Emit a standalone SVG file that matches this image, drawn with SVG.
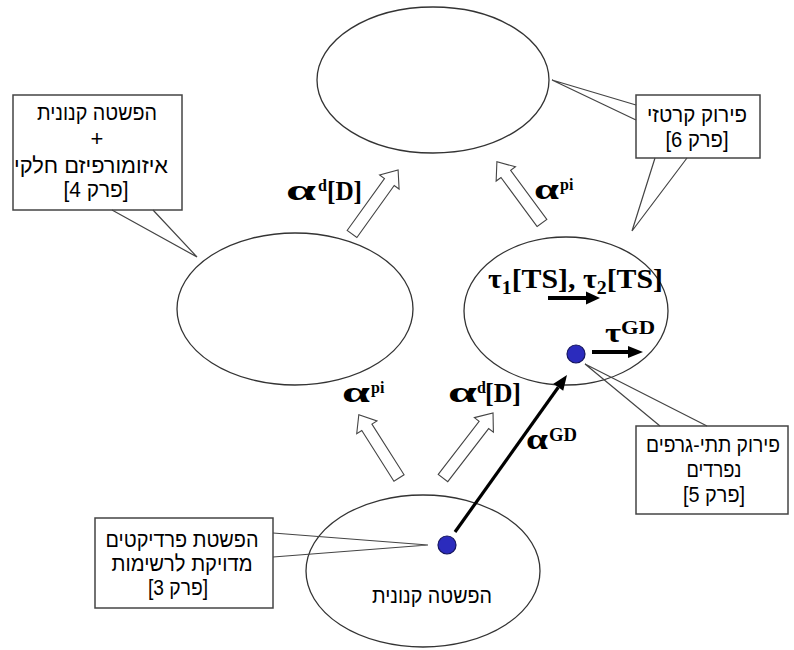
<svg xmlns="http://www.w3.org/2000/svg" width="794" height="650" viewBox="0 0 794 650">
<defs>
<style>
.ell{fill:#fff;stroke:#333;stroke-width:1.3}
.box{fill:#fff;stroke:#444;stroke-width:1.5}
.ptr{fill:none;stroke:#444;stroke-width:1.2}
.blk{fill:#fff;stroke:#444;stroke-width:1.1}
.he{font-family:"Liberation Sans","DejaVu Sans",sans-serif;font-size:22px;fill:#000;text-anchor:middle;direction:rtl;unicode-bidi:embed}
.hl{font-family:"Liberation Sans","DejaVu Sans",sans-serif;font-size:21px;fill:#000;text-anchor:middle}
.m{font-family:"Liberation Serif","Times New Roman",serif;font-weight:bold;fill:#000}
.dot{fill:#2b2bbd;stroke:#14145e;stroke-width:1.2}
.ar{stroke:#000;fill:none}
</style>
</defs>

<g id="ellipses">
<g id="n-top"><ellipse class="ell" cx="433" cy="80" rx="116" ry="73"/></g>
<g id="n-left"><ellipse class="ell" cx="295" cy="309" rx="118" ry="76"/></g>
<g id="n-right"><ellipse class="ell" cx="566" cy="311" rx="102" ry="74"/></g>
<g id="n-bottom"><ellipse class="ell" cx="423" cy="571" rx="117" ry="76"/>
<text class="he" x="432" y="603" textLength="120" lengthAdjust="spacingAndGlyphs">הפשטה קנונית</text></g>
</g>

<g id="connectors">
<path class="blk" transform="translate(399,478) rotate(-122.4)" d="M0,-6 H60 V-12 L75,0 L60,12 V6 H0 Z"/>
<path class="blk" transform="translate(443,478) rotate(-52.4)" d="M0,-6 H67 V-12 L82,0 L67,12 V6 H0 Z"/>
<path class="blk" transform="translate(352,234) rotate(-54.3)" d="M0,-6 H64 V-12 L79,0 L64,12 V6 H0 Z"/>
<path class="blk" transform="translate(542,223) rotate(-126.4)" d="M0,-6 H61 V-12 L76,0 L61,12 V6 H0 Z"/>

<line class="ar" x1="455" y1="532" x2="558.3" y2="387.2" stroke-width="3.2"/>
<polygon points="567,375 563.2,390.7 553.4,383.7" fill="#000"/>
<line class="ar" x1="548" y1="298" x2="589" y2="298" stroke-width="4"/>
<polygon points="586,291.5 600,298 586,304.5" fill="#000"/>
<line class="ar" x1="592" y1="352" x2="631" y2="352" stroke-width="4"/>
<polygon points="628,346 643,352 628,358" fill="#000"/>
</g>

<g id="labels">
<g id="lbl-top-left">
<text class="m" x="286" y="200" font-size="30" textLength="30" lengthAdjust="spacingAndGlyphs">α</text>
<text class="m" x="318" y="191" font-size="16">d</text>
<text class="m" x="327" y="200" font-size="27" textLength="35" lengthAdjust="spacingAndGlyphs">[D]</text>
</g>
<g id="lbl-top-right">
<text class="m" x="534" y="199" font-size="30" textLength="25" lengthAdjust="spacingAndGlyphs">α</text>
<text class="m" x="560" y="190" font-size="16">pi</text>
</g>
<g id="lbl-bottom-left">
<text class="m" x="342" y="402" font-size="30" textLength="28" lengthAdjust="spacingAndGlyphs">α</text>
<text class="m" x="371" y="393" font-size="16">pi</text>
</g>
<g id="lbl-bottom-right">
<text class="m" x="448" y="402" font-size="30" textLength="29" lengthAdjust="spacingAndGlyphs">α</text>
<text class="m" x="477" y="393" font-size="16">d</text>
<text class="m" x="485" y="402" font-size="27" textLength="36" lengthAdjust="spacingAndGlyphs">[D]</text>
</g>
<g id="lbl-gd">
<text class="m" x="526" y="449" font-size="30" textLength="22" lengthAdjust="spacingAndGlyphs">α</text>
<text class="m" x="549" y="441" font-size="18" textLength="28" lengthAdjust="spacingAndGlyphs">GD</text>
</g>
<g id="lbl-tau">
<text class="m" x="488" y="288" font-size="27" textLength="175" lengthAdjust="spacingAndGlyphs">τ<tspan font-size="18" dy="6">1</tspan><tspan dy="-6">[TS], τ</tspan><tspan font-size="18" dy="6">2</tspan><tspan dy="-6">[TS]</tspan></text>
</g>
<g id="lbl-taugd">
<text class="m" x="605" y="342" font-size="28" textLength="16" lengthAdjust="spacingAndGlyphs">τ</text>
<text class="m" x="621" y="334" font-size="19" textLength="34" lengthAdjust="spacingAndGlyphs">GD</text>
</g>
</g>

<g id="callout-4">
<rect class="box" x="13" y="95" width="169" height="115"/>
<polyline class="ptr" points="112,210 197,257 153,210"/>
<text class="he" x="97" y="120" textLength="120" lengthAdjust="spacingAndGlyphs">הפשטה קנונית</text>
<text class="he" x="97" y="146">+</text>
<text class="he" x="91" y="173" textLength="154" lengthAdjust="spacingAndGlyphs">איזומורפיזם חלקי</text>
<text class="he" x="96" y="197" textLength="65" lengthAdjust="spacingAndGlyphs">[פרק 4]</text>
</g>

<g id="callout-6">
<rect class="box" x="636" y="95" width="124" height="63"/>
<polyline class="ptr" points="636,105 552,80 636,120"/>
<polyline class="ptr" points="655,158 632,231 687,158"/>
<text class="he" x="697" y="122" textLength="100" lengthAdjust="spacingAndGlyphs">פירוק קרטזי</text>
<text class="he" x="697" y="147" textLength="63" lengthAdjust="spacingAndGlyphs">[פרק 6]</text>
</g>

<g id="callout-5">
<rect class="box" x="636" y="426" width="152" height="88"/>
<polyline class="ptr" points="660,426 585,364 707,426"/>
<text class="hl" x="713" y="452" textLength="134" lengthAdjust="spacingAndGlyphs">פירוק תתי-גרפים</text>
<text class="he" x="714" y="477" textLength="55" lengthAdjust="spacingAndGlyphs">נפרדים</text>
<text class="he" x="714" y="502" textLength="62" lengthAdjust="spacingAndGlyphs">[פרק 5]</text>
</g>

<g id="callout-3">
<rect class="box" x="95" y="518" width="178" height="90"/>
<polyline class="ptr" points="273,533 428,545 273,557"/>
<text class="he" x="182" y="547" textLength="153" lengthAdjust="spacingAndGlyphs">הפשטת פרדיקטים</text>
<text class="he" x="182" y="571" textLength="141" lengthAdjust="spacingAndGlyphs">מדויקת לרשימות</text>
<text class="he" x="178" y="595" textLength="60" lengthAdjust="spacingAndGlyphs">[פרק 3]</text>
</g>

<g id="dots">
<circle class="dot" cx="447" cy="545" r="9"/>
<circle class="dot" cx="576" cy="354" r="9"/>
</g>
</svg>
